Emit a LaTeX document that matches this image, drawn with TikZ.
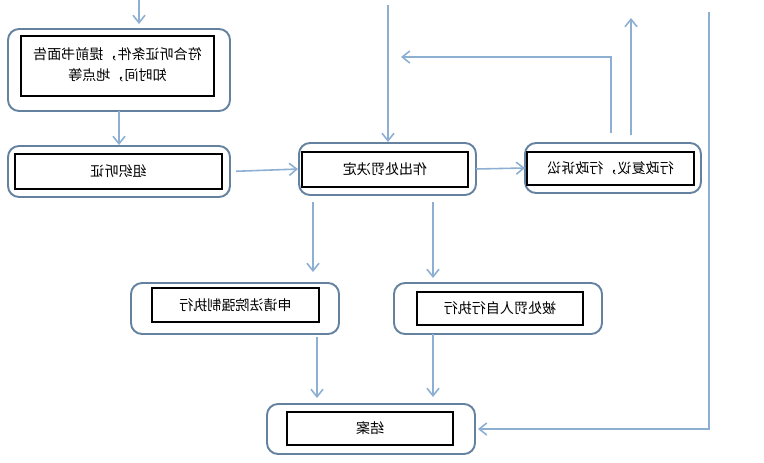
\documentclass[tikz,border=0pt]{standalone}
\usepackage{fontspec}
\usepackage{graphicx}
\usepackage{tikz}
\usetikzlibrary{arrows.meta}
\newfontfamily\cjk{Noto Sans CJK SC}
\definecolor{boxline}{RGB}{100,130,160}
\definecolor{flowline}{RGB}{140,175,210}
\newcommand{\mirr}[1]{\reflectbox{#1}}

\begin{document}
\begin{tikzpicture}[x=0.02cm,y=-0.02cm,
  outerbox/.style 2 args={draw=boxline,line width=1.1pt,rounded corners=0.22cm,
    minimum width=#1*0.02cm,minimum height=#2*0.02cm,outer sep=0pt,inner sep=0pt},
  innerbox/.style 2 args={draw=black,line width=0.6pt,
    minimum width=#1*0.02cm,minimum height=#2*0.02cm,outer sep=0pt,inner sep=0pt,
    font=\cjk\fontsize{8}{12}\selectfont},
  flow/.style={draw=flowline,line width=0.9pt,-{Straight Barb[length=1.5mm,width=2.4mm]}}]
%%Location
\useasboundingbox (0,0) rectangle (764,463);
%%Boxes
\node[outerbox={222}{82}] (hear) at (119,70) {};
\node[innerbox={193}{60}] (hear-in) at (117.5,66)
  {\mirr{\begin{tabular}{@{}c@{}}符合听证条件，提前书面告\\知时间，地点等\end{tabular}}};

\node[outerbox={222}{51}] (organize) at (119,171.5) {};
\node[innerbox={207}{35}] (organize-in) at (118.5,171.5) {\mirr{组织听证}};

\node[outerbox={177}{52}] (decide) at (387.5,169) {};
\node[innerbox={166}{35}] (decide-in) at (385,169.5) {\mirr{作出处罚决定}};

\node[outerbox={176}{50}] (review) at (613,168) {};
\node[innerbox={167}{33}] (review-in) at (610.5,168.5) {\mirr{行政复议，行政诉讼}};

\node[outerbox={208}{51}] (court) at (235,308.5) {};
\node[innerbox={167}{34}] (court-in) at (235.5,305) {\mirr{申请法院强制执行}};

\node[outerbox={208}{51}] (self) at (498,308.5) {};
\node[innerbox={166}{33}] (self-in) at (500,308.5) {\mirr{被处罚人自行执行}};

\node[outerbox={208}{50}] (close) at (371,429) {};
\node[innerbox={166}{33}] (close-in) at (370,428.5) {\mirr{结案}};

%%Arrows
\coordinate (intop) at (139,0);
\coordinate (dectop) at (388,5);
\coordinate (fbx) at (611,57);
\coordinate (fbend) at (401,57);
\coordinate (uptop) at (631,18);
\coordinate (rtop) at (709,12);
\coordinate (xl) at (313,0);
\coordinate (xm) at (317,0);
\coordinate (xr) at (433,0);

\draw[flow,shorten >=0.1cm] (intop) -- (intop |- hear.north);
\draw[flow,shorten >=0.02cm] (hear.south) -- (organize.north);
\draw[flow,shorten <=0.12cm,shorten >=0.02cm] (organize.east) -- (decide.west);
\draw[flow,shorten >=0.02cm] (dectop) -- (dectop |- decide.north);
\draw[flow] (decide.east) -- (review.west);

\draw[flow,shorten <=0.2cm] (review.north -| fbx) -- (fbx) -- (fbend);
\draw[flow,shorten <=0.16cm] (review.north -| uptop) -- (uptop);
\draw[flow,shorten >=0.06cm] (rtop) |- (close.east);

\draw[flow,shorten <=0.14cm,shorten >=0.22cm] (decide.south -| xl) -- (court.north -| xl);
\draw[flow,shorten <=0.14cm,shorten >=0.1cm] (decide.south -| xr) -- (self.north -| xr);
\draw[flow,shorten <=0.06cm,shorten >=0.12cm] (court.south -| xm) -- (close.north -| xm);
\draw[flow,shorten >=0.14cm] (self.south -| xr) -- (close.north -| xr);

\end{tikzpicture}
\end{document}
